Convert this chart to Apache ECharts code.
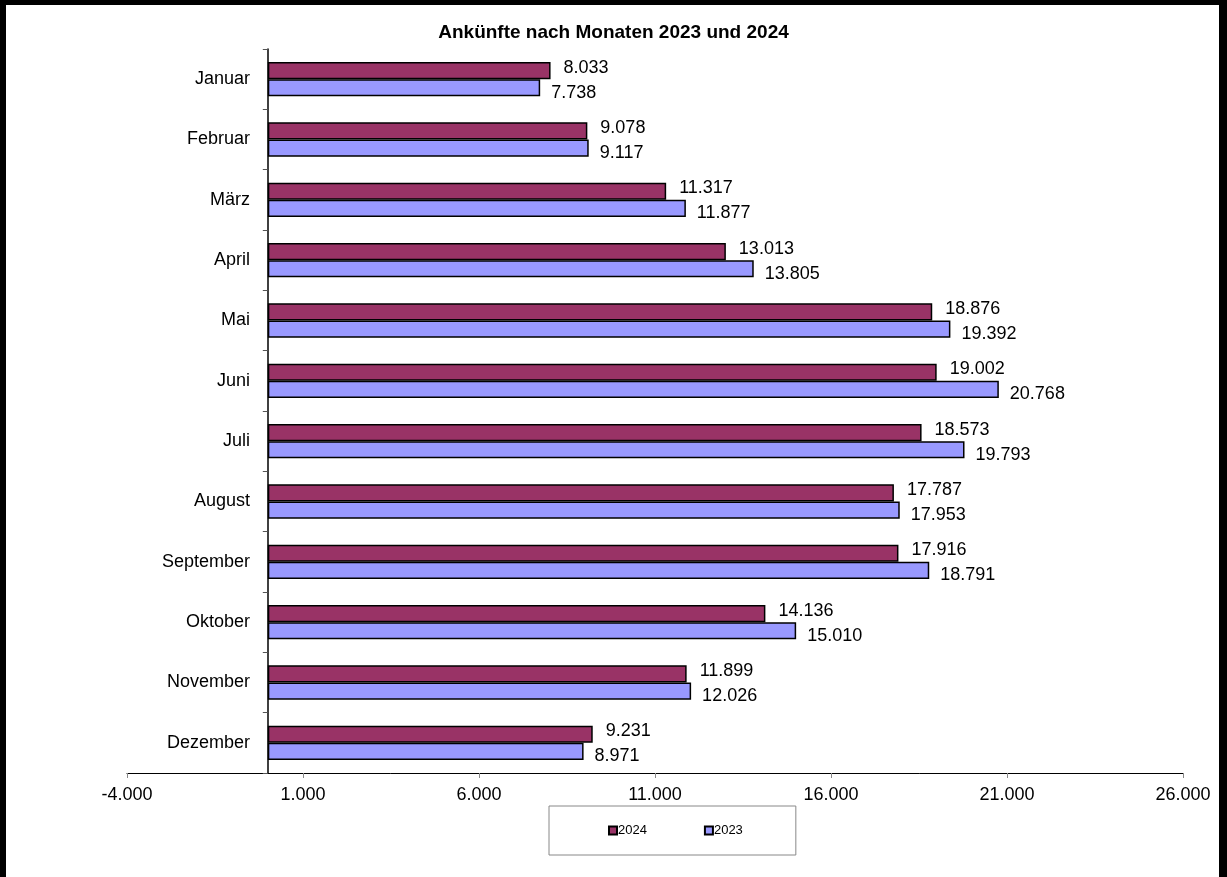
<!DOCTYPE html>
<html>
<head>
<meta charset="utf-8">
<script src="https://cdn.jsdelivr.net/npm/echarts@6/dist/echarts.min.js"></script>
<style>
  html, body { margin: 0; padding: 0; background: #fff; }
  #chart { position: absolute; left: 0; top: 0; width: 1227px; height: 877px; }
  #frame {
    position: absolute; left: 0; top: 0; width: 1227px; height: 877px;
    box-sizing: border-box; pointer-events: none;
    border-top: 5px solid #000; border-left: 6px solid #000; border-right: 8px solid #000;
  }
</style>
</head>
<body>
<div id="chart"></div>
<div id="frame"></div>
<script>
const months = ["Januar", "Februar", "März", "April", "Mai", "Juni", "Juli",
  "August", "September", "Oktober", "November", "Dezember"]
const values2024 = [8033, 9078, 11317, 13013, 18876, 19002, 18573, 17787, 17916, 14136, 11899, 9231]
const values2023 = [7738, 9117, 11877, 13805, 19392, 20768, 19793, 17953, 18791, 15010, 12026, 8971]
const xTicks = [-4000, 1000, 6000, 11000, 16000, 21000, 26000]

const font = "'Liberation Sans', Arial, sans-serif"

// Zahlen mit Punkt als Tausendertrenner
function fmt(v) {
  const s = String(Math.abs(v)).replace(/\B(?=(\d{3})+(?!\d))/g, ".")
  return (v < 0 ? "-" : "") + s
}

const chart = echarts.init(document.getElementById("chart"))

chart.setOption({
  backgroundColor: "#fff",
  animation: false,
  title: {
    text: "Ankünfte nach Monaten 2023 und 2024",
    left: "center",
    top: 18,
    textStyle: { fontFamily: font, fontSize: 19, fontWeight: "bold", color: "#000" }
  },
  legend: {
    left: 549,
    top: 806,
    padding: [18, 53, 18, 59],
    borderColor: "#888",
    borderWidth: 1,
    itemWidth: 8,
    itemHeight: 8,
    itemGap: 57,
    icon: "rect",
    textStyle: { fontFamily: font, fontSize: 13, color: "#000", padding: [0, 0, 0, -4] },
    data: ["2024", "2023"]
  },
  grid: {
    left: 127,
    right: 44,
    top: 49,
    bottom: 104,
    containLabel: false
  },
  xAxis: {
    type: "value",
    min: -4000,
    max: 26000,
    splitLine: { show: false },
    axisLine: { show: true, lineStyle: { color: "#000", width: 1 } },
    axisTick: { show: true, customValues: xTicks, length: 5, lineStyle: { color: "#888" } },
    axisLabel: {
      customValues: xTicks,
      formatter: fmt,
      margin: 13,
      fontFamily: font,
      fontSize: 18,
      color: "#000"
    }
  },
  yAxis: {
    type: "category",
    data: months,
    inverse: true,
    axisLine: { show: true, onZero: true, lineStyle: { color: "#000", width: 1.5 } },
    axisTick: { show: true, length: 5, lineStyle: { color: "#555" } },
    // Beschriftung rechtsbündig vor der Nulllinie
    axisLabel: { margin: -123, fontFamily: font, fontSize: 18, color: "#000" }
  },
  series: [
    {
      name: "2024",
      type: "bar",
      data: values2024,
      barGap: "0%",
      barCategoryGap: "43%",
      itemStyle: { color: "#993366", borderColor: "#000", borderWidth: 1.5 },
      label: {
        show: true,
        position: "right",
        distance: 13,
        offset: [0, -3],
        formatter: (p) => fmt(p.value),
        fontFamily: font,
        fontSize: 18,
        color: "#000"
      }
    },
    {
      name: "2023",
      type: "bar",
      data: values2023,
      barGap: "0%",
      barCategoryGap: "43%",
      itemStyle: { color: "#9999FF", borderColor: "#000", borderWidth: 1.5 },
      label: {
        show: true,
        position: "right",
        distance: 11,
        offset: [0, 5],
        formatter: (p) => fmt(p.value),
        fontFamily: font,
        fontSize: 18,
        color: "#000"
      }
    }
  ]
})
</script>
</body>
</html>
